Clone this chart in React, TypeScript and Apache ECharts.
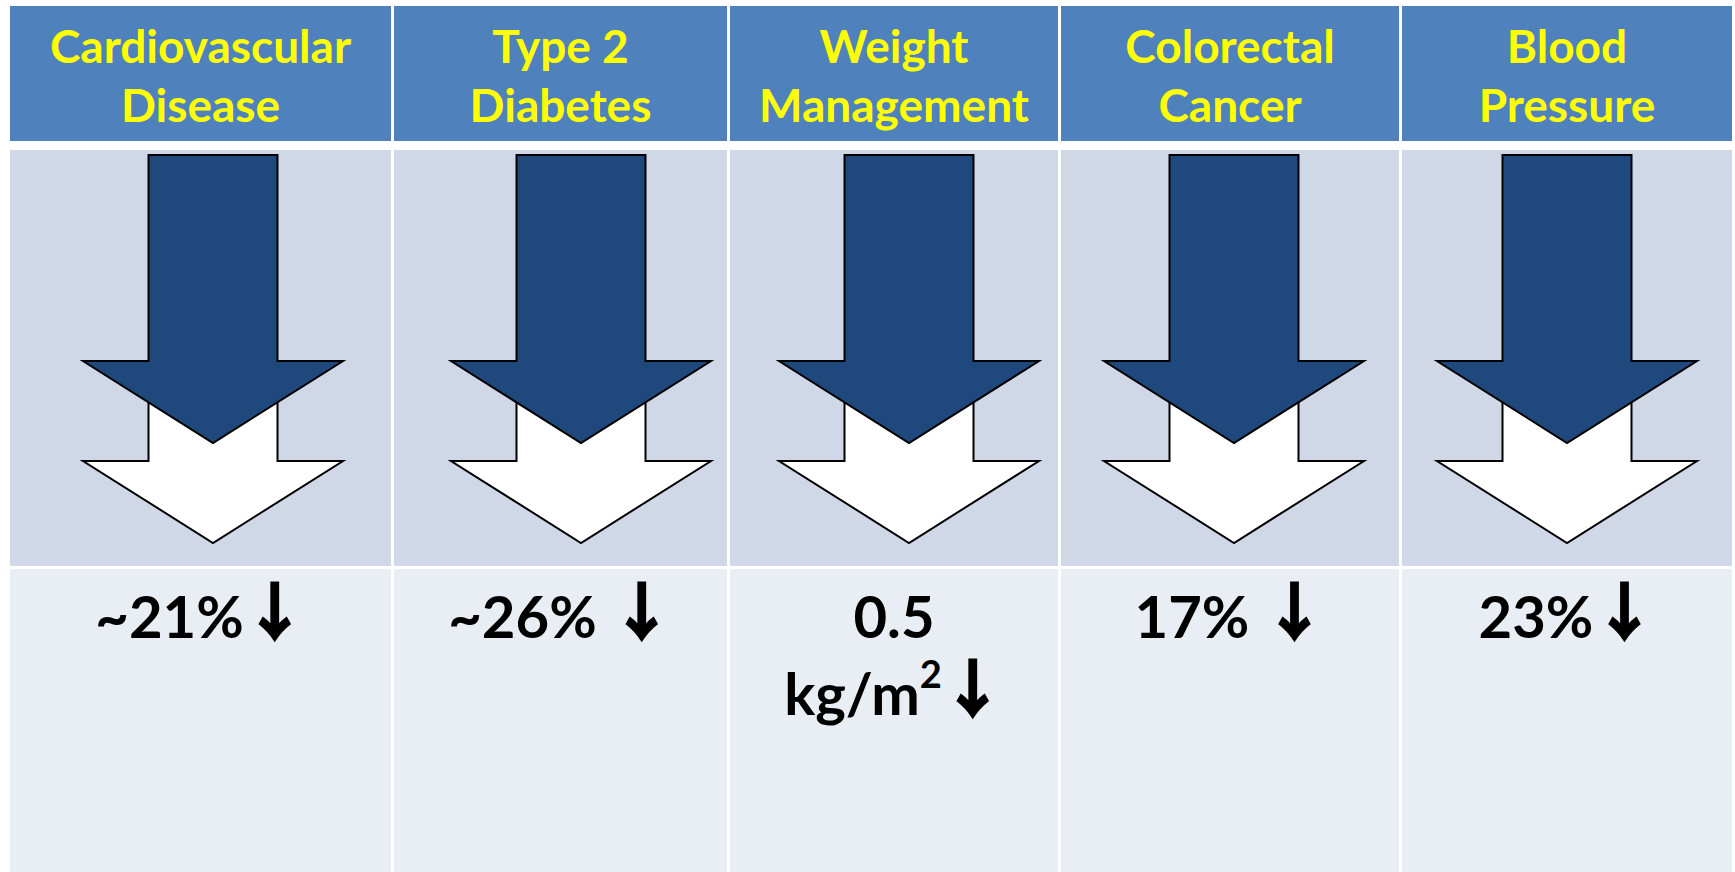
import React, { useEffect, useRef } from "react";
import * as echarts from "echarts";

// Outcome categories (column headers) and the reduction reported for each
const categories: string[] = [
  "Cardiovascular\nDisease",
  "Type 2\nDiabetes",
  "Weight\nManagement",
  "Colorectal\nCancer",
  "Blood\nPressure",
];
const results: string[] = ["~21%↓", "~26% ↓", "0.5\nkg/m²↓", "17% ↓", "23%↓"];

// Table layout (pixels)
const columnEdges: [number, number][] = [
  [10, 391],
  [394, 727],
  [730, 1058],
  [1061, 1399],
  [1402, 1732],
];
const arrowCenters: number[] = [213, 581, 909, 1234, 1567];
const headerRow = { top: 6, bottom: 141 };
const arrowRow = { top: 150, bottom: 566 };
const resultRow = { top: 569, bottom: 872 };

const COLORS = {
  header: "#4F81BD",
  headerText: "#FFFF00",
  arrowBand: "#D0D8E8",
  resultBand: "#E9EDF4",
  arrowDark: "#1F497D",
  arrowLight: "#FFFFFF",
  outline: "#000000",
  text: "#000000",
};

const FONT = 'Lato, "DejaVu Sans", sans-serif';

// Block arrow pointing down: shaft from shaftTop to headTop, head ending at tip
function blockArrow(cx: number, shaftTop: number, headTop: number, fill: string) {
  const shaftHalf = 64.5;
  const headHalf = 130;
  const tip = headTop + 82;
  return {
    type: "polygon",
    shape: {
      points: [
        [cx - shaftHalf, shaftTop],
        [cx + shaftHalf, shaftTop],
        [cx + shaftHalf, headTop],
        [cx + headHalf, headTop],
        [cx, tip],
        [cx - headHalf, headTop],
        [cx - shaftHalf, headTop],
      ],
    },
    style: { fill, stroke: COLORS.outline, lineWidth: 2, lineJoin: "miter" },
  };
}

// Turn arrow and superscript characters into rich-text tokens
function toRich(s: string): string {
  return s.replace(/↓/g, "{arr|↓}").replace(/²/g, "{sup|2}");
}

const resultRich = {
  arr: {
    fontFamily: '"Noto Sans CJK JP", "DejaVu Sans", sans-serif',
    fontWeight: "bold",
    fontSize: 62,
    lineHeight: 69,
    verticalAlign: "top",
    fill: COLORS.text,
    stroke: COLORS.text,
    lineWidth: 2.5,
  },
  sup: {
    fontFamily: FONT,
    fontWeight: "bold",
    fontSize: 38,
    lineHeight: 77,
    verticalAlign: "top",
    fill: COLORS.text,
  },
};

function buildGraphics() {
  const elements: any[] = [];
  categories.forEach((label, i) => {
    const [x0, x1] = columnEdges[i];
    const cx = (x0 + x1) / 2;
    const w = x1 - x0;
    elements.push({
      type: "rect",
      shape: { x: x0, y: headerRow.top, width: w, height: headerRow.bottom - headerRow.top },
      style: { fill: COLORS.header },
    });
    elements.push({
      type: "rect",
      shape: { x: x0, y: arrowRow.top, width: w, height: arrowRow.bottom - arrowRow.top },
      style: { fill: COLORS.arrowBand },
    });
    elements.push({
      type: "rect",
      shape: { x: x0, y: resultRow.top, width: w, height: resultRow.bottom - resultRow.top },
      style: { fill: COLORS.resultBand },
    });
    elements.push({
      type: "text",
      x: cx,
      y: 15.7,
      style: {
        text: label,
        fill: COLORS.headerText,
        font: `bold 46px ${FONT}`,
        align: "center",
        verticalAlign: "top",
        lineHeight: 59,
      },
    });
    // lighter arrow sits behind, offset downward
    elements.push(blockArrow(arrowCenters[i], 375, 461, COLORS.arrowLight));
    elements.push(blockArrow(arrowCenters[i], 155, 361, COLORS.arrowDark));
    elements.push({
      type: "text",
      x: cx,
      y: 577,
      style: {
        text: toRich(results[i]),
        fill: COLORS.text,
        font: `bold 58px ${FONT}`,
        align: "center",
        verticalAlign: "top",
        lineHeight: 77,
        rich: resultRich,
      },
    });
  });
  return elements;
}

export default function App() {
  const ref = useRef<HTMLDivElement>(null);
  useEffect(() => {
    if (!ref.current) return;
    const chart = echarts.init(ref.current, undefined, { renderer: "svg" });
    chart.setOption({
      animation: false,
      backgroundColor: "#FFFFFF",
      graphic: { elements: buildGraphics() },
    });
    return () => chart.dispose();
  }, []);
  return (
    <div
      ref={ref}
      style={{ position: "absolute", left: 0, top: 0, width: 1735, height: 872 }}
    />
  );
}
